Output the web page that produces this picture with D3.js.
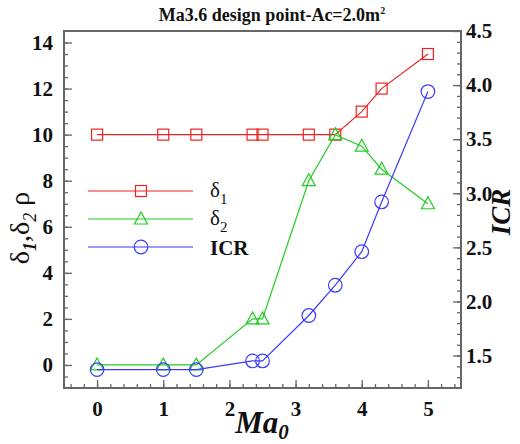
<!DOCTYPE html>
<html><head><meta charset="utf-8">
<script src="https://cdn.jsdelivr.net/npm/d3@7"></script>
<style>body{margin:0;background:#fff}svg{display:block}</style>
</head><body><svg id="c" width="520" height="444"></svg>
<script>
const ma0 = [0, 1, 1.5, 2.35, 2.5, 3.2, 3.6, 4.0, 4.3, 5.0];
const delta1 = [10, 10, 10, 10, 10, 10, 10, 11, 12, 13.5];
const delta2 = [0, 0, 0, 2, 2, 8, 10, 9.5, 8.5, 7];
const icr = [1.37, 1.37, 1.37, 1.45, 1.45, 1.87, 2.15, 2.46, 2.92, 3.94];
const xTicks = [0, 1, 2, 3, 4, 5];
const yLeftTicks = [0, 2, 4, 6, 8, 10, 12, 14];
const yRightTicks = [1.5, 2.0, 2.5, 3.0, 3.5, 4.0, 4.5];
const seriesNames = ["δ1", "δ2", "ICR"];

const svg = d3.select("#c").style("font-family", "'Liberation Serif', 'Times New Roman', 'DejaVu Serif', serif");
const L = 64, R = 461, T = 31, B = 388;
const x = d3.scaleLinear().domain([-0.5, 5.5]).range([L, R]);
const yl = d3.scaleLinear().domain([-1, 14.5]).range([B, T]);
const yr = d3.scaleLinear().domain([1.2, 4.5]).range([B, T]);
const axisCol = "#666";

function styleAxis(g){
  g.attr("font-family", null).attr("font-size", null);
  g.select(".domain").remove();
  g.selectAll(".tick line").attr("stroke", axisCol).attr("stroke-width", 1.3);
  g.selectAll(".tick text").attr("font-weight", "bold").attr("font-size", 21).attr("fill", "#111");
}
const xMinor = d3.range(-0.4, 5.5, 0.2).map(v => +v.toFixed(2));
svg.append("g").attr("transform", `translate(0,${B})`)
  .call(d3.axisBottom(x).tickValues(xMinor).tickSize(-4).tickFormat("")).call(styleAxis);
svg.append("g").attr("transform", `translate(0,${B})`)
  .call(d3.axisBottom(x).tickValues(xTicks).tickSize(-8).tickPadding(13).tickFormat(d3.format("d"))).call(styleAxis);

const ylMinor = d3.range(-0.5, 14.5, 0.5);
svg.append("g").attr("transform", `translate(${L},0)`)
  .call(d3.axisLeft(yl).tickValues(ylMinor).tickSize(-4).tickFormat("")).call(styleAxis);
svg.append("g").attr("transform", `translate(${L},0)`)
  .call(d3.axisLeft(yl).tickValues(yLeftTicks).tickSize(-8).tickPadding(11).tickFormat(d3.format("d"))).call(styleAxis);

const yrMinor = d3.range(1.3, 4.5, 0.1).map(v => +v.toFixed(2));
svg.append("g").attr("transform", `translate(${R},0)`)
  .call(d3.axisRight(yr).tickValues(yrMinor).tickSize(-4).tickFormat("")).call(styleAxis);
svg.append("g").attr("transform", `translate(${R},0)`)
  .call(d3.axisRight(yr).tickValues(yRightTicks).tickSize(-8).tickPadding(5).tickFormat(d3.format(".1f"))).call(styleAxis);

svg.append("rect").attr("x", L).attr("y", T).attr("width", R - L).attr("height", B - T)
  .attr("fill", "none").attr("stroke", axisCol).attr("stroke-width", 2);

const colors = ["#ee2222", "#22cc22", "#3b3bff"];
const series = [
  {vals: delta1, y: yl, c: colors[0], m: "square"},
  {vals: delta2, y: yl, c: colors[1], m: "triangle"},
  {vals: icr, y: yr, c: colors[2], m: "circle"}
];
function marker(g, type, c){
  if (type === "square") g.append("rect").attr("x", -5.5).attr("y", -5.5).attr("width", 11).attr("height", 11);
  else if (type === "triangle") g.append("path").attr("d", "M0,-7L6.5,5L-6.5,5Z");
  else g.append("circle").attr("r", 6.8);
  g.selectAll("*").attr("fill", "none").attr("stroke", c).attr("stroke-width", 1.2);
}
series.forEach(s => {
  const line = d3.line().x((d, i) => x(ma0[i])).y(d => s.y(d));
  svg.append("path").datum(s.vals).attr("d", line).attr("fill", "none").attr("stroke", s.c).attr("stroke-width", 1.2);
  s.vals.forEach((v, i) => {
    const g = svg.append("g").attr("transform", `translate(${x(ma0[i])},${s.y(v)})`);
    marker(g, s.m, s.c);
  });
});

const legY = [191, 219, 247];
series.forEach((s, i) => {
  svg.append("line").attr("x1", 88).attr("x2", 193).attr("y1", legY[i]).attr("y2", legY[i]).attr("stroke", s.c).attr("stroke-width", 1.2);
  const g = svg.append("g").attr("transform", `translate(141,${legY[i]})`);
  marker(g, s.m, s.c);
});
function delta(t, sub, xx, yy){
  const tx = svg.append("text").attr("x", xx).attr("y", yy).attr("font-size", 21).attr("fill", "#111");
  tx.append("tspan").text(t);
  tx.append("tspan").attr("dy", 7).attr("font-size", 15).text(sub);
}
delta("δ", "1", 210, 197);
delta("δ", "2", 210, 225);
svg.append("text").attr("x", 210).attr("y", 255).attr("font-weight", "bold").attr("font-size", 21).attr("fill", "#111").text(seriesNames[2]);

const title = svg.append("text").attr("x", 272).attr("y", 21).attr("text-anchor", "middle")
  .attr("font-weight", "bold").attr("font-size", 18).attr("fill", "#111");
title.append("tspan").text("Ma3.6 design point-Ac=2.0m");
title.append("tspan").attr("dy", -7).attr("font-size", 10).text("2");

const xl = svg.append("text").attr("x", 262).attr("y", 433).attr("text-anchor", "middle")
  .attr("font-weight", "bold").attr("font-style", "italic").attr("font-size", 31).attr("fill", "#111");
xl.append("tspan").text("Ma");
xl.append("tspan").attr("dy", 6).attr("font-size", 21).text("0");

svg.append("text").attr("transform", "translate(510,212) rotate(-90)").attr("text-anchor", "middle")
  .attr("font-weight", "bold").attr("font-style", "italic").attr("font-size", 27).attr("fill", "#111").text("ICR");

const ll = svg.append("text").attr("transform", "translate(29,228) rotate(-90)").attr("text-anchor", "middle")
  .attr("font-size", 28).attr("fill", "#111");
ll.append("tspan").text("δ");
ll.append("tspan").attr("dy", 7).attr("font-size", 18).attr("font-style", "italic").attr("font-weight", "bold").text("1");
ll.append("tspan").attr("dy", -7).text(",δ");
ll.append("tspan").attr("dy", 7).attr("font-size", 18).attr("font-style", "italic").text("2");
ll.append("tspan").attr("dy", -7).text(" ρ");
</script></body></html>
